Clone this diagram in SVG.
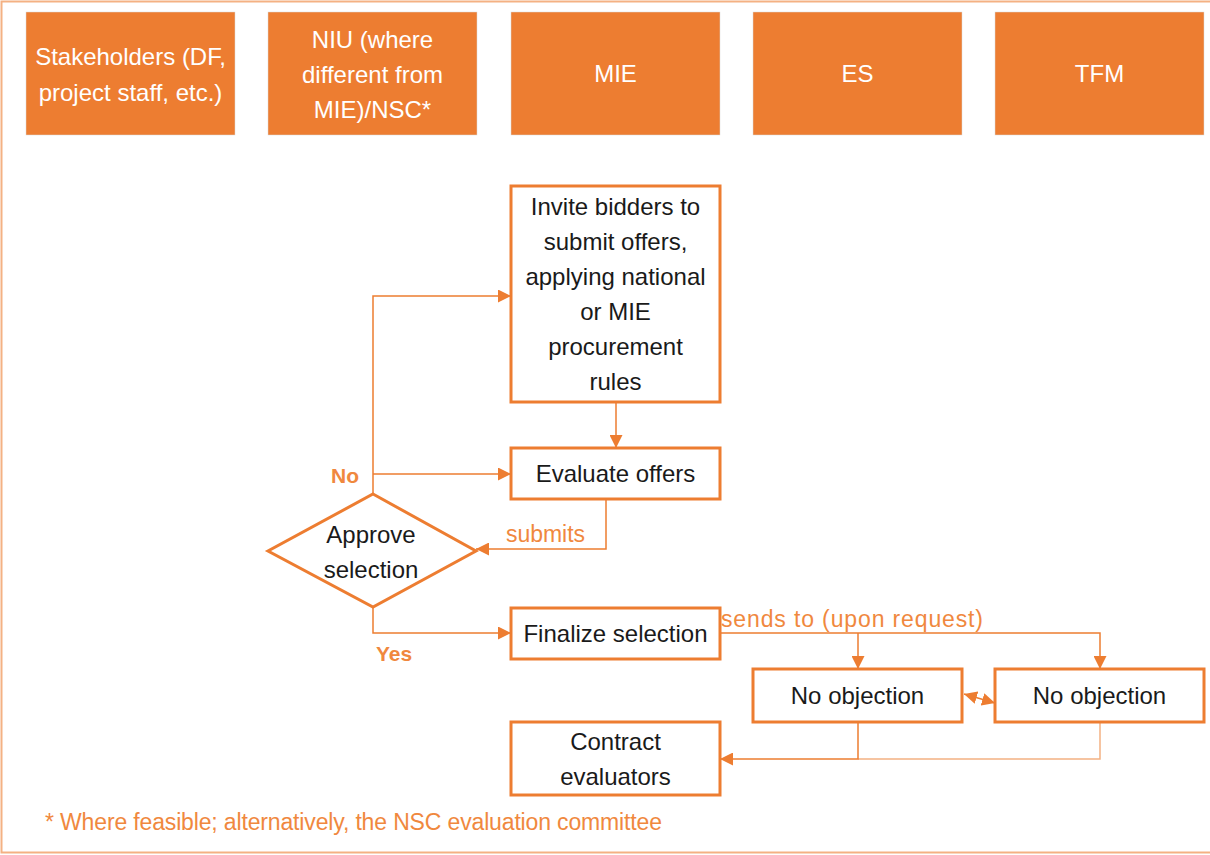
<svg xmlns="http://www.w3.org/2000/svg" width="1210" height="855" viewBox="0 0 1210 855">
<style>
.hdr{fill:#ED7D31;stroke:#D9D9D9;stroke-width:0.5}
.ht{font-family:"Liberation Sans",Arial,sans-serif;font-size:24px;fill:#FFFFFF;text-anchor:middle}
.box{fill:#FFFFFF;stroke:#ED7D31;stroke-width:3}
.bt{font-family:"Liberation Sans",Arial,sans-serif;font-size:24px;fill:#1A1A1A;text-anchor:middle}
.con{fill:none;stroke:#ED7D31;stroke-width:1.5}
.conl{fill:none;stroke:#F4B183;stroke-width:1.5}
.lbl{font-family:"Liberation Sans",Arial,sans-serif;font-size:23px;fill:#F0883E}
.lblb{font-family:"Liberation Sans",Arial,sans-serif;font-size:21px;fill:#F0883E;font-weight:bold}
</style>
<defs>
<marker id="arrL" viewBox="0 0 10 10" refX="10" refY="5" markerWidth="13" markerHeight="13" markerUnits="userSpaceOnUse" orient="auto-start-reverse">
<path d="M0,0 L10,5 L0,10 z" fill="#ED7D31"/>
</marker>
</defs>
<rect x="1.5" y="1.5" width="1210" height="851" fill="#FFFFFF" stroke="#F4B183" stroke-width="2"/>

<g id="hdr-stakeholders">
<rect class="hdr" x="26" y="12" width="209" height="123"/>
<text class="ht" x="130.5" y="65">Stakeholders (DF,</text>
<text class="ht" x="130.5" y="101">project staff, etc.)</text>
</g>
<g id="hdr-niu">
<rect class="hdr" x="268" y="12" width="209" height="123"/>
<text class="ht" x="372.5" y="48">NIU (where</text>
<text class="ht" x="372.5" y="83">different from</text>
<text class="ht" x="372.5" y="118">MIE)/NSC*</text>
</g>
<g id="hdr-mie">
<rect class="hdr" x="511" y="12" width="209" height="123"/>
<text class="ht" x="615.5" y="82">MIE</text>
</g>
<g id="hdr-es">
<rect class="hdr" x="753" y="12" width="209" height="123"/>
<text class="ht" x="857.5" y="82">ES</text>
</g>
<g id="hdr-tfm">
<rect class="hdr" x="995" y="12" width="209" height="123"/>
<text class="ht" x="1099.5" y="82">TFM</text>
</g>

<g id="connectors">
<path class="con" d="M616,402 V448" marker-end="url(#arrL)"/>
<path class="con" d="M373,494 V296 H511" marker-end="url(#arrL)"/>
<path class="con" d="M373,474 H511" marker-end="url(#arrL)"/>
<path class="con" d="M606,499 V549 H476" marker-end="url(#arrL)"/>
<path class="con" d="M373,607 V633 H511" marker-end="url(#arrL)"/>
<path class="con" d="M720,633 H1100 V669" marker-end="url(#arrL)"/>
<path class="con" d="M858,633 V669" marker-end="url(#arrL)"/>
<path class="con" d="M964,694 L995,703" stroke-width="2" marker-start="url(#arrL)" marker-end="url(#arrL)"/>
<path class="conl" d="M1100,722 V759 H858"/>
<path class="con" d="M858,722 V759 H720" marker-end="url(#arrL)"/>
<text class="lblb" x="331" y="483">No</text>
<text class="lbl" x="506" y="542" textLength="79">submits</text>
<text class="lblb" x="376" y="661">Yes</text>
<text class="lbl" x="721" y="627" textLength="262">sends to (upon request)</text>
</g>

<g id="invite">
<rect class="box" x="511" y="186" width="209" height="216"/>
<text class="bt" x="615.5" y="215">Invite bidders to</text>
<text class="bt" x="615.5" y="250">submit offers,</text>
<text class="bt" x="615.5" y="285">applying national</text>
<text class="bt" x="615.5" y="320">or MIE</text>
<text class="bt" x="615.5" y="355">procurement</text>
<text class="bt" x="615.5" y="390">rules</text>
</g>
<g id="evaluate">
<rect class="box" x="511" y="448" width="209" height="51"/>
<text class="bt" x="615.5" y="482">Evaluate offers</text>
</g>
<g id="approve">
<polygon class="box" points="373,494 476,551 373,607 268,551"/>
<text class="bt" x="371" y="543">Approve</text>
<text class="bt" x="371" y="578">selection</text>
</g>
<g id="finalize">
<rect class="box" x="511" y="608" width="209" height="51"/>
<text class="bt" x="615.5" y="642">Finalize selection</text>
</g>
<g id="noobj-es">
<rect class="box" x="753" y="669" width="209" height="53"/>
<text class="bt" x="857.5" y="704">No objection</text>
</g>
<g id="noobj-tfm">
<rect class="box" x="995" y="669" width="209" height="53"/>
<text class="bt" x="1099.5" y="704">No objection</text>
</g>
<g id="contract">
<rect class="box" x="511" y="722" width="209" height="73"/>
<text class="bt" x="615.5" y="750">Contract</text>
<text class="bt" x="615.5" y="785">evaluators</text>
</g>

<text class="lbl" x="45" y="830" textLength="617">* Where feasible; alternatively, the NSC evaluation committee</text>
</svg>
